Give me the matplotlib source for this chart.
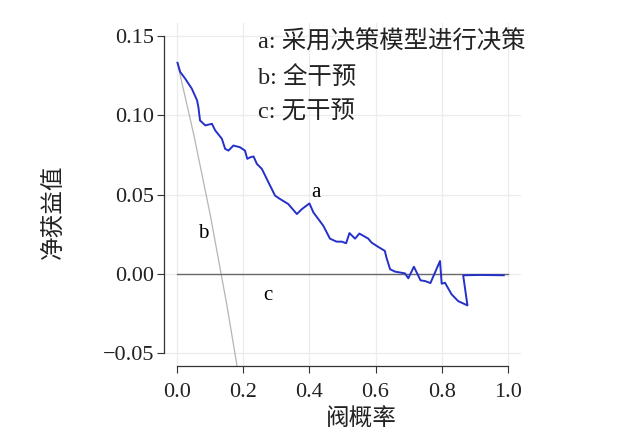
import matplotlib
matplotlib.use("Agg")
import matplotlib.pyplot as plt

plt.rcParams['font.family'] = ['Liberation Serif', 'Noto Sans CJK SC', 'DejaVu Sans']
plt.rcParams['axes.unicode_minus'] = True

# 曲线 a: 采用决策模型进行决策
thr_a = [0.001, 0.009, 0.024, 0.044, 0.060, 0.064, 0.069, 0.085, 0.105, 0.115,
         0.135, 0.145, 0.155, 0.170, 0.190, 0.205, 0.212, 0.221, 0.231, 0.241,
         0.256, 0.276, 0.296, 0.311, 0.336, 0.362, 0.377, 0.400, 0.412, 0.442,
         0.462, 0.482, 0.498, 0.511, 0.521, 0.538, 0.551, 0.578, 0.588, 0.608,
         0.628, 0.633, 0.644, 0.659, 0.689, 0.699, 0.716, 0.736, 0.749, 0.766,
         0.795, 0.800, 0.810, 0.830, 0.850, 0.878, 0.865, 0.915, 0.988]
nb_a = [0.1331, 0.1274, 0.1232, 0.1169, 0.1095, 0.1053, 0.0968, 0.0937, 0.0947, 0.0905,
        0.0853, 0.0789, 0.0778, 0.0810, 0.0799, 0.0778, 0.0726, 0.0736, 0.0741, 0.0694,
        0.0663, 0.0578, 0.0494, 0.0473, 0.0441, 0.0378, 0.0409, 0.0445, 0.0388, 0.0304,
        0.0223, 0.0204, 0.0204, 0.0194, 0.0258, 0.0223, 0.0255, 0.0223, 0.0198, 0.0171,
        0.0146, 0.0103, 0.0030, 0.0015, 0.0004, -0.0027, 0.0046, -0.0040, -0.0044, -0.0057,
        0.0082, -0.0061, -0.0055, -0.0128, -0.0171, -0.0198, -0.0008, -0.0006, -0.0008]

# 曲线 b: 全干预
thr_b = [0.0, 0.05, 0.10, 0.15, 0.18, 0.20]
nb_b = [0.1335, 0.0879, 0.0372, -0.0194, -0.0567, -0.0831]

# 曲线 c: 无干预
thr_c = [0.0, 1.0]
nb_c = [0.0, 0.0]

xticks = [0.0, 0.2, 0.4, 0.6, 0.8, 1.0]
yticks = [-0.05, 0.0, 0.05, 0.10, 0.15]

fig = plt.figure(figsize=(6.26, 4.46), dpi=100)
W, H = 626, 446
ax = fig.add_axes([164 / W, 1 - 366 / H, (521 - 164) / W, (366 - 23.4) / H])
ax.set_xlim(-0.04, 1.04)
ax.set_ylim(-0.058, 0.158)

for x in xticks:
    ax.axvline(x, color='#ececec', lw=0.9, zorder=0)
for y in yticks:
    ax.axhline(y, color='#ececec', lw=0.9, zorder=0)

ax.plot(thr_b, nb_b, color='#b5b5b5', lw=0.9, zorder=2)
ax.plot(thr_c, nb_c, color='#6a6a6a', lw=1.0, zorder=2)
ax.plot(thr_a, nb_a, color='#2530c8', lw=1.4, zorder=3)

ax.text(0.42, 0.0515, 'a', fontsize=15, ha='center', va='center')
ax.text(0.079, 0.0253, 'b', fontsize=15, ha='center', va='center')
ax.text(0.275, -0.0135, 'c', fontsize=15, ha='center', va='center')

ax.spines['top'].set_visible(False)
ax.spines['right'].set_visible(False)
ax.spines['left'].set_bounds(-0.05, 0.15)
ax.spines['bottom'].set_bounds(0.0, 1.0)
for s in ('left', 'bottom'):
    ax.spines[s].set_color('#333333')
    ax.spines[s].set_linewidth(0.9)

ax.set_xticks(xticks)
ax.set_xticklabels(['%.1f' % v for v in xticks])
ax.set_yticks(yticks)
ax.set_yticklabels(['\u22120.05', '0.00', '0.05', '0.10', '0.15'])
ax.tick_params(direction='out', length=5, width=0.8, color='#333333',
               labelsize=16, labelcolor='#222222')
ax.tick_params(axis='y', pad=2)
ax.tick_params(axis='x', pad=7)

# 轴标题
fig.text(361 / W, 1 - 420 / H, '阀概率', fontsize=17, color='#222222',
         ha='center', va='center')
fig.text(54 / W, 1 - 212 / H, '净获益值', fontsize=17, color='#222222',
         ha='center', va='center', rotation=90)

legend_lines = ['a: 采用决策模型进行决策', 'b: 全干预', 'c: 无干预']
for i, s in enumerate(legend_lines):
    fig.text(258 / W, 1 - (42 + 35 * i) / H, s, fontsize=17.6,
             color='#222222', ha='left', va='center')

fig.savefig('out.png', dpi=100, facecolor='white')
